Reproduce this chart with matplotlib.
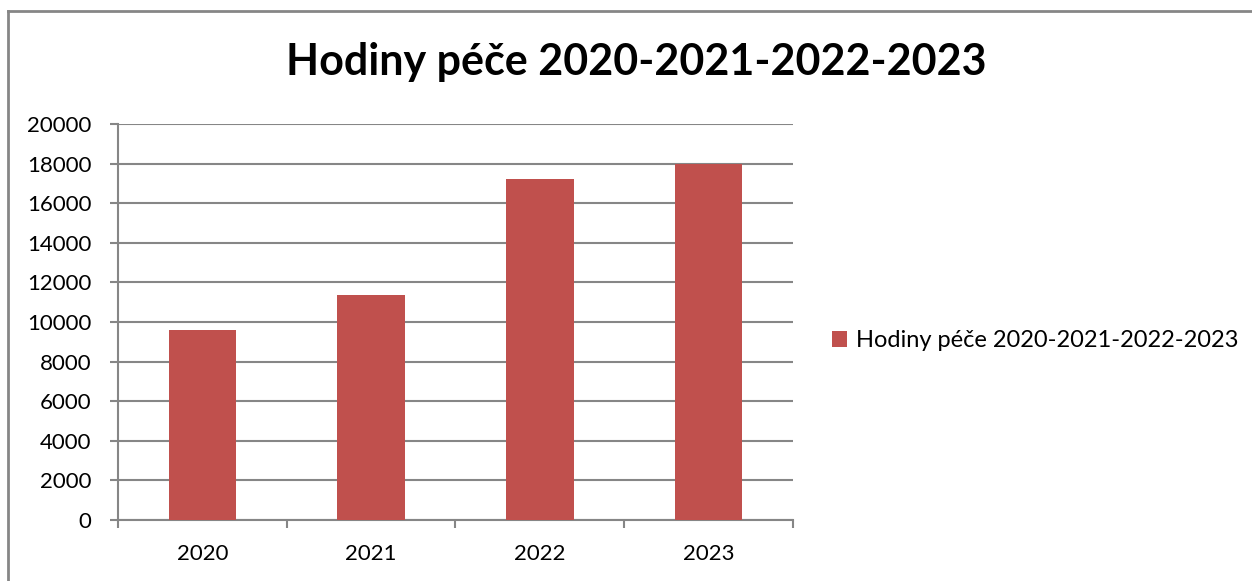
import numpy as np
import matplotlib.pyplot as plt
from matplotlib.lines import Line2D

plt.rcParams['font.family'] = ['Lato', 'DejaVu Sans']

years = ['2020', '2021', '2022', '2023']
hours = [9600, 11360, 17230, 18000]
title = 'Hodiny péče 2020-2021-2022-2023'

grey = '#868686'
red = '#C0504D'

fig = plt.figure(figsize=(12.52, 5.81), dpi=100)
ax = fig.add_axes([0.0942, 0.105, 0.5391, 0.6816])

x = np.arange(len(years))
ax.bar(x, hours, width=0.40, color=red, label=title, zorder=3)

ax.set_xlim(-0.5, len(years) - 0.5)
ax.set_ylim(0, 20000)
ax.set_yticks(np.arange(0, 20001, 2000))
ax.set_xticks(x)
ax.set_xticklabels(years)
ax.set_xticks(np.arange(-0.5, len(years), 1), minor=True)
ax.yaxis.grid(True, color=grey, linewidth=1.5, zorder=0)

for s in ['top', 'right']:
    ax.spines[s].set_visible(False)
for s in ['left', 'bottom']:
    ax.spines[s].set_color(grey)
    ax.spines[s].set_linewidth(1.5)

ax.tick_params(axis='y', length=6, width=1.5, color=grey, labelsize=16, pad=13)
ax.tick_params(axis='x', which='major', length=0, labelsize=16, pad=17)
ax.tick_params(axis='x', which='minor', length=6, width=1.5, color=grey)

fig.text(0.508, 0.893, title, ha='center', va='center', fontsize=31, fontweight='bold')

ax.legend(loc='center left', bbox_to_anchor=(1.026, 0.452), frameon=False,
          fontsize=17, handlelength=0.65, handleheight=0.65, handletextpad=0.4)

# outer chart border (top and left visible)
fig.add_artist(Line2D([0.0064, 1.0], [0.981, 0.981], transform=fig.transFigure, color=grey, linewidth=2))
fig.add_artist(Line2D([0.0064, 0.0064], [0.0, 0.981], transform=fig.transFigure, color=grey, linewidth=2))

fig.savefig('out.png', dpi=100)
